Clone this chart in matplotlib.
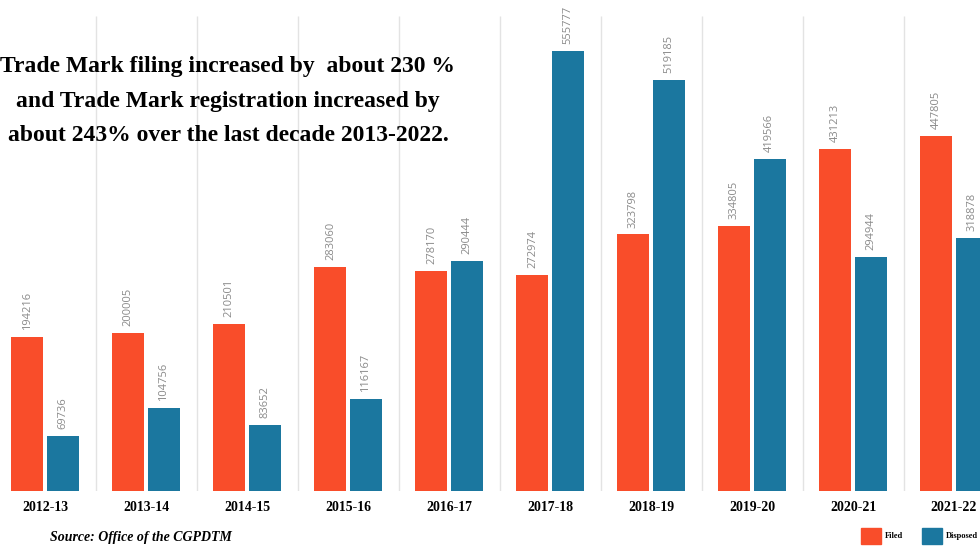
import matplotlib
matplotlib.use("Agg")
from matplotlib import pyplot as plt
import numpy as np

years = ["2012-13", "2013-14", "2014-15", "2015-16", "2016-17",
         "2017-18", "2018-19", "2019-20", "2020-21", "2021-22"]
filed = [194216, 200005, 210501, 283060, 278170,
         272974, 323798, 334805, 431213, 447805]
disposed = [69736, 104756, 83652, 116167, 290444,
            555777, 519185, 419566, 294944, 318878]

orange = "#f94d2a"
blue = "#1b779f"

fig = plt.figure(figsize=(9.8, 5.5), dpi=100)
ax = fig.add_axes([0, 59 / 550, 1, 491 / 550])

x = np.arange(len(years))
w = 0.317
off = 0.174

# vertical separators between the year groups
ax.vlines(x[:-1] + 0.5, 0, 600000, color="#e3e3e3", lw=1, zorder=0)

b1 = ax.bar(x - off, filed, w, color=orange, zorder=2)
b2 = ax.bar(x + off, disposed, w, color=blue, zorder=2)

for bars, vals in ((b1, filed), (b2, disposed)):
    for r, v in zip(bars, vals):
        ax.annotate(str(v), (r.get_x() + r.get_width() / 2, v),
                    xytext=(0, 5), textcoords="offset points",
                    rotation=90, ha="center", va="bottom",
                    fontsize=8, color="#8a8a8a", family="Open Sans")

ax.set_xlim(-0.4455, 9.257)
ax.set_ylim(0, 619800)
ax.axis("off")

for i, yr in enumerate(years):
    ax.text(i, -12000, yr, ha="center", va="top", fontsize=10,
            fontweight="bold", family="Liberation Serif")

fig.text(228 / 980, 1 - 101 / 550,
         "Trade Mark filing increased by  about 230 %\n"
         "and Trade Mark registration increased by\n"
         "about 243% over the last decade 2013-2022.",
         ha="center", va="center", fontsize=17, fontweight="bold",
         family="Liberation Serif", linespacing=1.85)

fig.text(50 / 980, 1 - 538 / 550, "Source: Office of the CGPDTM",
         ha="left", va="center", fontsize=10, fontweight="bold",
         style="italic", family="Liberation Serif")

# small legend at the bottom right
for x0, col, lab in ((861, orange, "Filed"), (922, blue, "Disposed")):
    fig.patches.append(plt.Rectangle((x0 / 980, 1 - 544 / 550), 20 / 980, 16 / 550,
                                     color=col, transform=fig.transFigure))
    fig.text((x0 + 24) / 980, 1 - 536 / 550, lab, ha="left", va="center",
             fontsize=6, fontweight="bold", family="Liberation Serif")

plt.savefig("out.png", dpi=100)
